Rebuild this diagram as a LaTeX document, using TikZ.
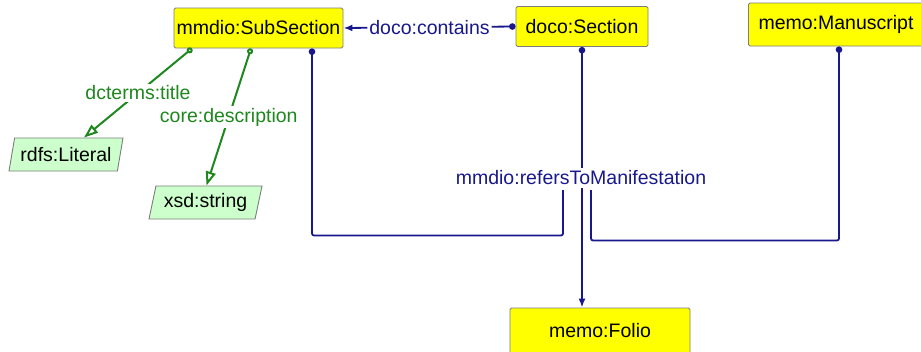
\documentclass[tikz,border=0pt]{standalone}
\usepackage{fontspec}
\setmainfont{Liberation Sans}
\usetikzlibrary{arrows.meta,positioning,calc,shapes.geometric}
\definecolor{relblue}{RGB}{24,24,140}
\definecolor{relgreen}{RGB}{30,135,30}
\definecolor{clsyellow}{RGB}{255,255,0}
\definecolor{litgreen}{RGB}{204,255,204}
\definecolor{boxgray}{RGB}{125,125,125}

\begin{document}
\begin{tikzpicture}[x=1pt,y=-1pt,
  every node/.style={font=\fontsize{19.5}{22}\selectfont},
  cls/.style={draw=boxgray,fill=clsyellow,rounded corners=1.5pt,line width=0.9pt,
    minimum height=40pt,inner sep=1pt},
  lit/.style={trapezium,trapezium left angle=71,trapezium right angle=109,
    trapezium stretches body,draw=boxgray,fill=litgreen,line width=0.9pt,
    minimum height=33pt,inner sep=1pt},
  objedge/.style={relblue,line width=1.8pt,rounded corners=2pt},
  dataedge/.style={relgreen,line width=2pt},
  bluelbl/.style={text=relblue,fill=white,inner sep=2pt},
  greenlbl/.style={text=relgreen,fill=white,inner sep=2pt}]
\useasboundingbox (0,0) rectangle (921,351);
% classes
\node[cls,minimum width=169pt] (sub) at (258.5,28) {mmdio:SubSection};
\node[cls,minimum width=132pt] (sec) at (582,26.5) {doco:Section};
\node[cls,minimum width=175pt,minimum height=43pt] (man) at (836,24.5) {memo:Manuscript};
\node[cls,minimum width=180pt,minimum height=46pt] (folio) at (600,331) {memo:Folio};
% literals
\node[lit,minimum width=114pt] (rdfslit) at (66,154.5) {rdfs:Literal};
\node[lit,minimum width=113pt] (xsdstr) at (205.5,202.5) {xsd:string};
% doco:contains
\draw[objedge,{Circle[length=6.5pt]}-{Latex[length=9pt,width=7pt]}]
  (sec.west) -- node[bluelbl] {doco:contains} (sub.east);
% datatype properties
\draw[dataedge,{Circle[open,length=6pt,fill=white]}-{Triangle[open,length=14pt,width=10pt,fill=white]}]
  ([xshift=-66.5pt]sub.south) -- node[greenlbl] {dcterms:title} ([xshift=18pt]rdfslit.north);
\draw[dataedge,{Circle[open,length=6pt,fill=white]}-{Triangle[open,length=14pt,width=10pt,fill=white]}]
  ([xshift=-7.5pt]sub.south) -- node[greenlbl] {core:description} ([xshift=1pt]xsdstr.north);
% mmdio:refersToManifestation
\node[text=relblue,inner sep=3pt] (rtm) at (581,178) {mmdio:refersToManifestation};
\coordinate (jl) at (563,190);
\coordinate (jr) at (591,190);
\draw[objedge,{Circle[length=6.5pt]}-] ([xshift=53.5pt]sub.south) -- ++(0,187) -| (jl);
\draw[objedge,{Circle[length=6.5pt]}-] ([xshift=3pt]man.south) -- ++(0,194) -| (jr);
\draw[objedge,{Circle[length=6.5pt]}-] (sec.south) -- (sec.south |- rtm.north);
\draw[objedge,-{Latex[length=9pt,width=7pt]}] (sec.south |- rtm.south) -- (sec.south |- folio.north);
\end{tikzpicture}
\end{document}
